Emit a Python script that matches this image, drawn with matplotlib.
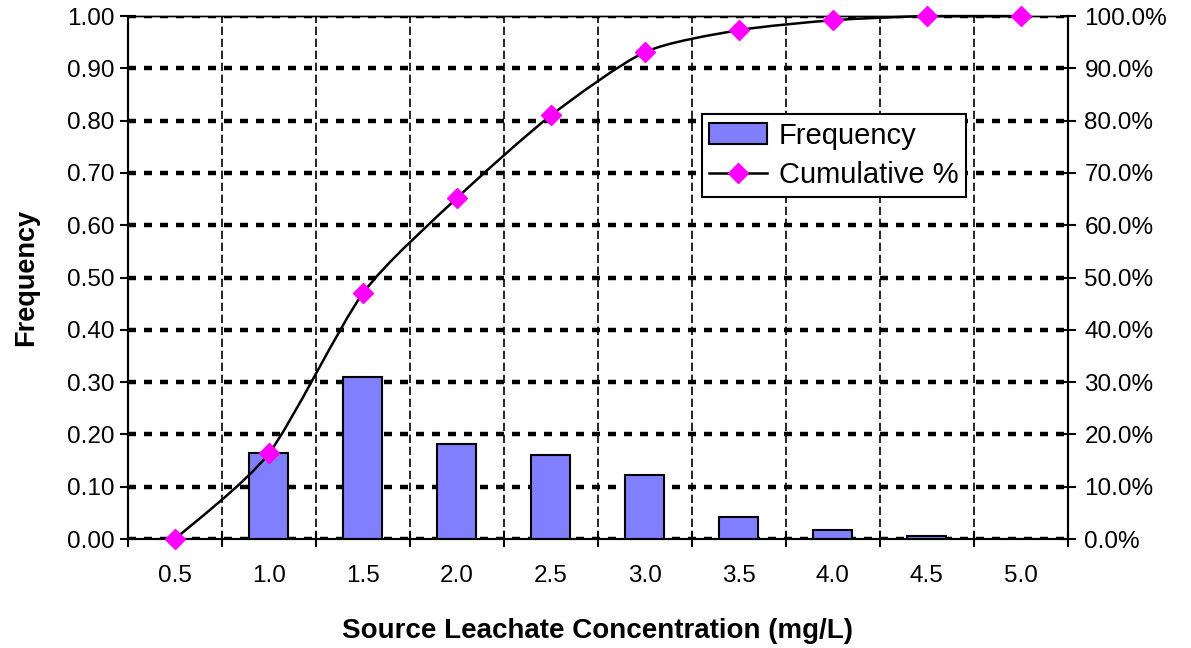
import matplotlib
matplotlib.use('Agg')
import matplotlib.pyplot as plt
from matplotlib.path import Path
from matplotlib.patches import PathPatch, Patch
from matplotlib.lines import Line2D
import numpy as np

plt.rcParams['font.family'] = ['Liberation Sans', 'DejaVu Sans']

bins = ['0.5', '1.0', '1.5', '2.0', '2.5', '3.0', '3.5', '4.0', '4.5', '5.0']
frequency = [0.0, 0.165, 0.31, 0.182, 0.16, 0.123, 0.042, 0.017, 0.005, 0.0]
cumulative = [0.0, 0.164, 0.47, 0.652, 0.81, 0.931, 0.973, 0.992, 1.0, 1.0]
freq_ticks = np.arange(0, 1.01, 0.1)

fig = plt.figure(figsize=(11.91, 6.48), dpi=100)
ax = fig.add_axes([0.1075, 0.1682, 0.789, 0.807])
x = np.arange(len(bins))

ax.bar(x, frequency, width=0.415, color='#8080FF', edgecolor='black', linewidth=1.5, zorder=3)

ax.set_xlim(-0.5, len(bins) - 0.5)
ax.set_ylim(0, 1.0)
ax.set_yticks(freq_ticks)
ax.set_yticklabels([f'{v:.2f}' for v in freq_ticks])
ax.set_xticks(x)
ax.set_xticklabels(bins)
ax.set_xticks(np.arange(-0.5, len(bins), 1.0), minor=True)
ax.tick_params(axis='x', which='major', length=0, pad=19, labelsize=17.5)
ax.tick_params(axis='x', which='minor', direction='inout', length=12, width=1.5)
ax.tick_params(axis='y', direction='inout', length=12, width=1.5, labelsize=17.5, pad=4)

ax.grid(axis='y', which='major', color='black', linestyle=(0, (1.8, 1.8)), linewidth=3.2, zorder=1)
ax.grid(axis='x', which='minor', color='black', linestyle=(0, (5, 2.2)), linewidth=1.2, zorder=1)
for s in ax.spines.values():
    s.set_linewidth(1.5)
ax.spines['top'].set_linewidth(1.0)

ax.set_xlabel('Source Leachate Concentration (mg/L)', fontsize=20, fontweight='bold', labelpad=22)
ax.set_ylabel('Frequency', fontsize=19.5, fontweight='bold', labelpad=20)

ax2 = ax.twinx()
ax2.set_ylim(0, 1.0)
ax2.set_yticks(freq_ticks)
ax2.set_yticklabels([f'{v*100:.1f}%' for v in freq_ticks])
ax2.tick_params(axis='y', direction='inout', length=12, width=1.5, labelsize=17.5, pad=6)
for s in ax2.spines.values():
    s.set_linewidth(1.5)
ax2.spines['top'].set_linewidth(1.0)

# smoothed line through the cumulative points (bezier, low tension)
pts = np.column_stack([x, cumulative]).astype(float)
verts = [tuple(pts[0])]
codes = [Path.MOVETO]
t = 0.12
for i in range(len(pts) - 1):
    p0 = pts[i - 1] if i > 0 else pts[i]
    p1 = pts[i]
    p2 = pts[i + 1]
    p3 = pts[i + 2] if i + 2 < len(pts) else pts[i + 1]
    c1 = p1 + (p2 - p0) * t
    c2 = p2 - (p3 - p1) * t
    c1[1] = min(c1[1], 1.0)
    c2[1] = min(c2[1], 1.0)
    verts += [tuple(c1), tuple(c2), tuple(p2)]
    codes += [Path.CURVE4] * 3
ax2.add_patch(PathPatch(Path(verts, codes), facecolor='none', edgecolor='black',
                        linewidth=1.8, zorder=4, clip_on=False))
ax2.plot(x, cumulative, linestyle='none', marker='D', markersize=10, color='#FF00FF',
         markeredgecolor='#FF00FF', zorder=5, clip_on=False)

handles = [Patch(facecolor='#8080FF', edgecolor='black', linewidth=1.5),
           Line2D([], [], color='black', linewidth=1.8, marker='D', markersize=10,
                  markerfacecolor='#FF00FF', markeredgecolor='#FF00FF')]
leg = ax2.legend(handles, ['Frequency', 'Cumulative %'], loc='upper left',
                 bbox_to_anchor=(0.6105, 0.812), fontsize=21, frameon=True, fancybox=False,
                 edgecolor='black', framealpha=1, borderpad=0.25, handlelength=2.0,
                 handleheight=0.7, handletextpad=0.4, labelspacing=0.4, borderaxespad=0)
leg.get_frame().set_linewidth(1.5)

fig.savefig('out.png', dpi=100)
